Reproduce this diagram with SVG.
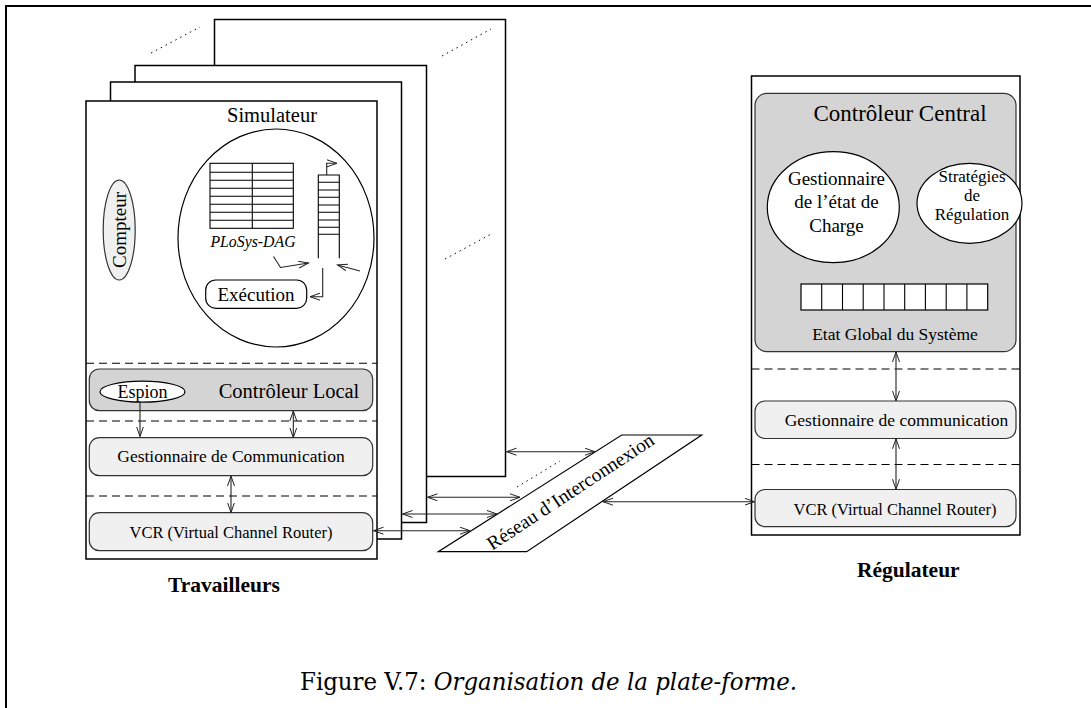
<svg xmlns="http://www.w3.org/2000/svg" width="1091" height="708" viewBox="0 0 1091 708">
<style>
.bx{fill:#fff;stroke:#000;stroke-width:1.5}
.gr{fill:#d4d4d4;stroke:#333;stroke-width:1.2}
.lt{fill:#f0f0f0;stroke:#333;stroke-width:1.2}
.el{fill:#fff;stroke:#000;stroke-width:1.2}
.ln{fill:none;stroke:#000;stroke-width:1.1}
.dash{fill:none;stroke:#000;stroke-width:1.1;stroke-dasharray:8 5}
.dot{fill:none;stroke:#000;stroke-width:1;stroke-dasharray:1.5 4}
.ar{fill:none;stroke:#222;stroke-width:1.1;marker-end:url(#ah)}
.dar{fill:none;stroke:#222;stroke-width:1.1;marker-end:url(#ah);marker-start:url(#ah)}
text{font-family:"Liberation Serif","Times New Roman",serif;fill:#000}
.c{text-anchor:middle}
</style>
<defs>
<marker id="ah" markerUnits="userSpaceOnUse" markerWidth="12" markerHeight="10" refX="10" refY="4" orient="auto-start-reverse">
<path d="M0,0.5 L10,4 L0,7.5" fill="none" stroke="#222" stroke-width="1"/>
</marker>
</defs>

<g id="frame">
<path d="M6,708 V6 H1091" fill="none" stroke="#000" stroke-width="2"/>
</g>

<g id="worker4"><rect class="bx" x="214.5" y="19.5" width="291" height="457"/></g>
<g id="worker3"><rect class="bx" x="135" y="65.5" width="291.5" height="457"/></g>
<g id="worker2"><rect class="bx" x="110.5" y="82" width="291" height="457"/></g>
<g id="worker1"><rect class="bx" x="86" y="101" width="291" height="458"/></g>

<g id="dots">
<line class="dot" x1="151" y1="53" x2="200" y2="27"/>
<line class="dot" x1="442" y1="56" x2="491" y2="29"/>
<line class="dot" x1="445" y1="259" x2="493" y2="233"/>
<line class="dot" x1="517" y1="487" x2="560" y2="461"/>
</g>

<g id="simulateur">
<text class="c" x="272" y="121.5" font-size="20.5">Simulateur</text>
<ellipse class="el" cx="276" cy="238" rx="98" ry="109"/>
</g>

<g id="plosys-dag">
<rect class="ln" x="210" y="163.3" width="83.3" height="65"/>
<path class="ln" d="M210,172.3H293.3M210,180.3H293.3M210,188.3H293.3M210,196.3H293.3M210,204.3H293.3M210,212.3H293.3M210,220.3H293.3M252.3,163.3V228.3"/>
<text x="253" y="246.5" class="c" font-size="15.8" font-style="italic">PLoSys-DAG</text>
</g>

<g id="file">
<path class="ln" d="M318.3,258.3V175H339.3V258.3M318.3,182.3H339.3M318.3,190H339.3M318.3,197.3H339.3M318.3,205H339.3M318.3,212.3H339.3M318.3,220H339.3M318.3,227.3H339.3M318.3,234.3H339.3"/>
</g>

<g id="execution">
<rect class="el" x="205.7" y="280" width="101" height="28.3" rx="10"/>
<text class="c" x="256" y="300.5" font-size="19">Exécution</text>
</g>

<g id="compteur">
<ellipse class="lt" cx="119.2" cy="230" rx="16" ry="50"/>
<text class="c" transform="translate(125.5,230) rotate(-90)" x="0" y="0" font-size="19">Compteur</text>
</g>

<g id="separateurs-gauche">
<line class="dash" x1="86" y1="363.3" x2="377" y2="363.3"/>
<line class="dash" x1="86" y1="421" x2="377" y2="421"/>
<line class="dash" x1="86" y1="496" x2="377" y2="496"/>
</g>

<g id="controleur-local">
<rect class="gr" x="89.3" y="369" width="283.4" height="41.7" rx="10"/>
<text x="289" y="397.5" class="c" font-size="20.5">Contrôleur Local</text>
</g>

<g id="espion">
<ellipse class="el" cx="142.5" cy="391.7" rx="42.5" ry="10.5"/>
<text class="c" x="142.5" y="398" font-size="18">Espion</text>
</g>

<g id="gestionnaire-communication-gauche">
<rect class="lt" x="89.3" y="437.7" width="283.4" height="38" rx="10"/>
<text class="c" x="231" y="462" font-size="17.5">Gestionnaire de Communication</text>
</g>

<g id="vcr-gauche">
<rect class="lt" x="89.3" y="512.7" width="283.4" height="38" rx="10"/>
<text class="c" x="231" y="537.5" font-size="16.5">VCR (Virtual Channel Router)</text>
</g>

<g id="label-travailleurs">
<text class="c" x="224" y="592" font-size="21.5" font-weight="bold">Travailleurs</text>
</g>

<g id="reseau">
<polygon class="el" points="438.3,551.7 526.7,551.7 701.7,435 621.7,435"/>
<text class="c" transform="translate(574,497) rotate(-33.3)" x="0" y="0" font-size="19.5">Réseau d’Interconnexion</text>
</g>

<g id="regulateur">
<rect class="bx" x="751.5" y="76" width="268.5" height="459"/>
<line class="dash" x1="751.5" y1="369" x2="1020" y2="369"/>
<line class="dash" x1="751.5" y1="464.5" x2="1020" y2="464.5"/>
</g>

<g id="controleur-central">
<rect class="gr" x="755" y="93.3" width="261" height="258.4" rx="12"/>
<text class="c" x="900" y="120.5" font-size="23">Contrôleur Central</text>
</g>

<g id="gestionnaire-etat">
<ellipse class="el" cx="833.3" cy="207.2" rx="66" ry="55.5"/>
<text class="c" x="836.5" y="185" font-size="19">Gestionnaire</text>
<text class="c" x="836.5" y="208.3" font-size="19">de l’état de</text>
<text class="c" x="836.5" y="231.7" font-size="19">Charge</text>
</g>

<g id="strategies">
<ellipse class="el" cx="969.5" cy="203.3" rx="52.5" ry="40"/>
<text class="c" x="972" y="181.5" font-size="17">Stratégies</text>
<text class="c" x="972" y="201" font-size="17">de</text>
<text class="c" x="972" y="220" font-size="17">Régulation</text>
</g>

<g id="etat-global">
<rect class="el" x="801" y="284" width="186.7" height="26"/>
<path class="ln" d="M821.7,284V310M842.5,284V310M863.2,284V310M884,284V310M904.7,284V310M925.4,284V310M946.2,284V310M966.9,284V310"/>
<text class="c" x="895" y="340" font-size="17.5">Etat Global du Système</text>
</g>

<g id="gestionnaire-communication-droite">
<rect class="lt" x="755" y="401" width="261" height="37.5" rx="10"/>
<text class="c" x="896.5" y="426" font-size="17.5">Gestionnaire de communication</text>
</g>

<g id="vcr-droite">
<rect class="lt" x="755" y="489.5" width="261" height="37.2" rx="10"/>
<text class="c" x="895" y="515" font-size="16.5">VCR (Virtual Channel Router)</text>
</g>

<g id="label-regulateur">
<text class="c" x="908.3" y="576.7" font-size="21.5" font-weight="bold">Régulateur</text>
</g>

<g id="connectors">
<path class="ar" d="M326.7,175V163.3H337"/>
<path class="ar" d="M273.5,256.5L280.5,267.5L308.5,263"/>
<path class="ar" d="M360,271L337.5,265"/>
<path class="ar" d="M322.7,268V296.7H310"/>
<path class="ar" d="M140,401.7V436.5"/>
<path class="dar" d="M293.3,411V437.5"/>
<path class="dar" d="M231,476V512.5"/>
<path class="dar" d="M506.5,451.7H595"/>
<path class="dar" d="M427.5,497.3H520"/>
<path class="dar" d="M402.5,514H497"/>
<path class="dar" d="M373.5,530.7H470"/>
<path class="dar" d="M603,501.7H754.5"/>
<path class="dar" d="M896,352V401"/>
<path class="dar" d="M896,438.8V489.2"/>
</g>

<g id="caption">
<text x="300" y="690" font-size="24" textLength="497" lengthAdjust="spacingAndGlyphs" style="font-family:'DejaVu Serif','Liberation Serif',serif">Figure V.7: <tspan font-style="italic">Organisation de la plate-forme.</tspan></text>
</g>
</svg>
